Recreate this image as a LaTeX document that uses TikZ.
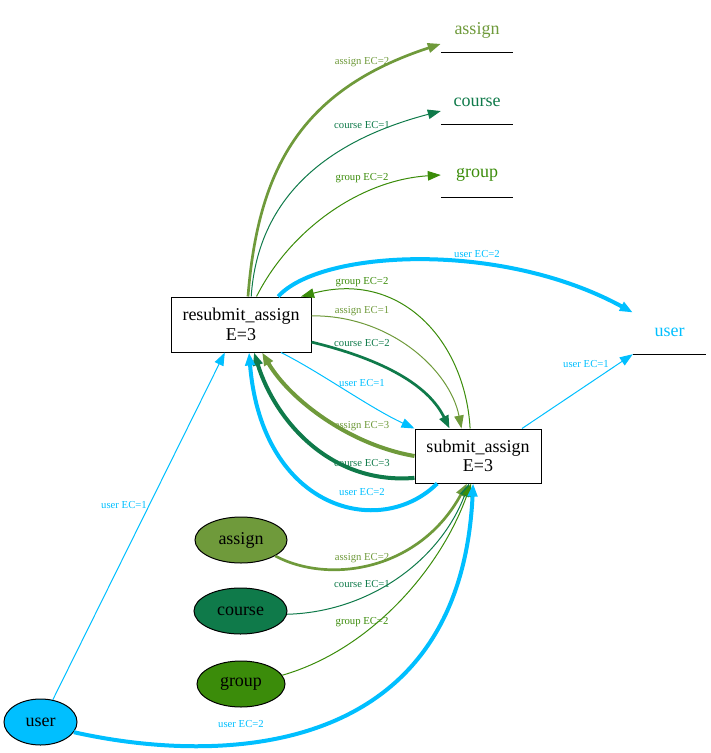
\documentclass[tikz,border=0pt]{standalone}
\usepackage{fontspec}
\setmainfont{Liberation Serif}
\usetikzlibrary{arrows.meta,shapes.geometric}
\definecolor{asgcol}{RGB}{111,154,59}
\definecolor{crscol}{RGB}{15,122,74}
\definecolor{grpcol}{RGB}{59,140,10}
\definecolor{usrcol}{RGB}{0,191,255}
\tikzset{
  tbox/.style={draw,rectangle,line width=1pt,fill=white,inner sep=0pt,align=center,font=\fontsize{18}{19.5}\selectfont},
  enode/.style={draw,ellipse,line width=1pt,minimum height=46pt,inner sep=0pt,font=\fontsize{18}{19.5}\selectfont},
  pnode/.style={rectangle,minimum width=72pt,minimum height=44pt,inner sep=0pt,font=\fontsize{18}{19.5}\selectfont},
  elab/.style={inner sep=0pt,font=\fontsize{10.7}{11}\selectfont},
  lw1/.style={line width=1pt},
  lw2/.style={line width=2.7pt},
  lw3/.style={line width=4pt},
  arr/.style={-{Triangle[length=13pt,width=9.5pt]}}
}
\begin{document}
\begin{tikzpicture}[x=1pt,y=-1pt]
    \useasboundingbox (0,0) rectangle (711,753);
    \node[tbox,minimum width=140pt,minimum height=55pt] (res) at (241,324.5) {resubmit\_assign\\E=3};
    \node[tbox,minimum width=126pt,minimum height=54pt] (sub) at (478,456) {submit\_assign\\E=3};
    \node[enode,fill=asgcol,minimum width=92pt] (asg) at (241,540) {assign};
    \node[enode,fill=crscol,minimum width=93pt] (crs) at (240.5,611) {course};
    \node[enode,fill=grpcol,minimum width=88pt] (grp) at (241,684) {group};
    \node[enode,fill=usrcol,minimum width=73pt] (usr) at (40.5,722) {user};
    \node[pnode,text=asgcol] (pasg) at (477,30) {assign};
    \node[pnode,text=crscol] (pcrs) at (477,102) {course};
    \node[pnode,text=grpcol] (pgrp) at (477,175) {group};
    \node[pnode,text=usrcol,minimum width=73pt] (pusr) at (669.5,332) {user};
    \foreach \n in {pasg,pcrs,pgrp,pusr} \draw[line width=1pt] (\n.south west) -- (\n.south east);

    \draw[lw2,asgcol,arr] (res.76) .. controls (258,170) and (300,90) .. (pasg.201);
    \draw[lw1,crscol,arr] (res.70) .. controls (258,195) and (330,140) .. (pcrs.194);
    \draw[lw1,grpcol,arr] (res.61) .. controls (290,230) and (360,180) .. (pgrp.180);
    \draw[lw3,usrcol,arr] (res.37) .. controls (320,250) and (500,240) .. (pusr.152);

    \draw[lw1,grpcol,arr] (sub.106) .. controls (465,340) and (400,270) .. (res.25);
    \draw[lw1,asgcol,arr] (res.7) .. controls (390,315) and (450,370) .. (sub.121);
    \draw[lw2,crscol,arr] (res.-14) .. controls (365,355) and (425,378) .. (sub.136);
    \draw[lw1,usrcol,arr] (res.-35) .. controls (320,372) and (370,408) .. (sub.north west);
    \draw[lw3,asgcol,arr] (sub.west) .. controls (350,445) and (290,400) .. (res.-53);
    \draw[lw3,crscol,arr] (sub.199) .. controls (330,485) and (275,420) .. (res.-65);
    \draw[lw3,usrcol,arr] (sub.214) .. controls (380,540) and (262,510) .. (res.-74);
    \draw[lw1,usrcol,arr] (sub.32) -- (pusr.south west);

    \draw[lw2,asgcol,arr] (asg.-25) .. controls (330,585) and (420,570) .. (sub.248);
    \draw[lw1,crscol,arr] (crs.-4) .. controls (370,612) and (440,560) .. (sub.252);
    \draw[lw1,grpcol,arr] (grp.12) .. controls (370,650) and (440,570) .. (sub.256);
    \draw[lw1,usrcol,arr] (usr.61) -- (res.240);
    \draw[lw3,usrcol,arr] (usr.-17) .. controls (220,765) and (460,760) .. (sub.260);

    \foreach \n/\x/\y/\c/\t in {l1/362/62/asgcol/assign EC=2, l2/362/125/crscol/course EC=1,
        l3/362/178/grpcol/group EC=2, l4/477/254/usrcol/user EC=2,
        l5/362/282/grpcol/group EC=2, l6/362/311/asgcol/assign EC=1,
        l7/362/343/crscol/course EC=2, l8/362/383/usrcol/user EC=1,
        l9/362/426/asgcol/assign EC=3, l10/362/463/crscol/course EC=3,
        l11/362/492/usrcol/user EC=2, l12/586/364/usrcol/user EC=1,
        l13/362/558/asgcol/assign EC=2, l14/362/584/crscol/course EC=1,
        l15/362/622/grpcol/group EC=2, l16/124/505/usrcol/user EC=1,
        l17/241/724/usrcol/user EC=2}
        \node[elab,text=\c] (\n) at (\x,\y) {\t};
\end{tikzpicture}
\end{document}
